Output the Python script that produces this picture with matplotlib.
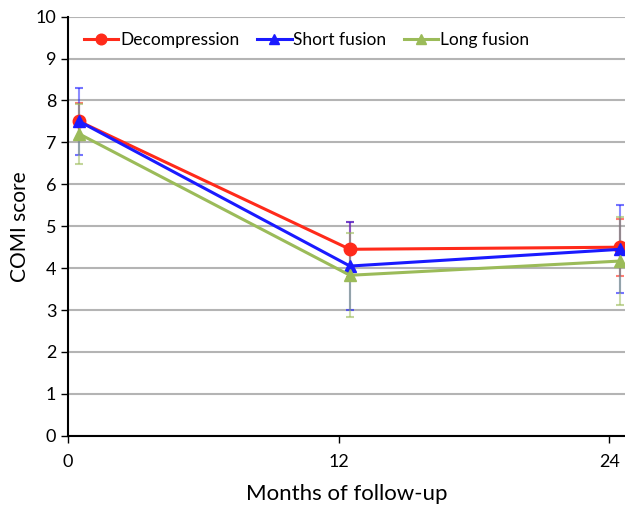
import matplotlib
matplotlib.use('Agg')
import matplotlib.pyplot as plt
from matplotlib.lines import Line2D

plt.rcParams['font.family'] = ['Lato', 'DejaVu Sans']

months = [0.5, 12.5, 24.5]
decompression = [7.5, 4.45, 4.5]
decompression_err = [0.45, 0.65, 0.68]
short_fusion = [7.5, 4.05, 4.45]
short_fusion_err = [0.8, 1.05, 1.05]
long_fusion = [7.2, 3.83, 4.17]
long_fusion_err = [0.72, 1.0, 1.05]

fig = plt.figure(figsize=(6.25, 5.05), dpi=100)
ax = fig.add_axes([0.109, 0.137, 0.891, 0.830])

series = [
    ('Decompression', decompression, decompression_err, '#ff2a1a', 'o', 9),
    ('Short fusion', short_fusion, short_fusion_err, '#1a1aff', '^', 9),
    ('Long fusion', long_fusion, long_fusion_err, '#9bbb59', '^', 8),
]
handles = []
for name, vals, err, col, mk, ms in series:
    c = ax.errorbar(months, vals, yerr=err, color=col, ecolor=col, elinewidth=1.5,
                    capsize=3, capthick=1.5, lw=2.2, marker=mk, ms=ms, zorder=3)
    # fade the error bars a bit
    for part in c.lines[2]:
        part.set_alpha(0.5)
    for part in c.lines[1]:
        part.set_alpha(0.6)
    handles.append(Line2D([], [], color=col, lw=2.2, marker=mk, ms=ms * 0.85,
                          label=name))

ax.set_xlim(0, 24.7)
ax.set_ylim(0, 10)
ax.set_xticks([0, 12, 24])
ax.set_yticks(range(11))
ax.yaxis.grid(True, color='#b4b4b4', lw=1.5)
ax.set_axisbelow(True)
for s in ['top', 'right']:
    ax.spines[s].set_visible(False)
for s in ['left', 'bottom']:
    ax.spines[s].set_linewidth(1.5)
ax.tick_params(labelsize=13, length=5, width=1)
ax.tick_params(axis='x', pad=8)
ax.set_ylabel('COMI score', fontsize=15)
ax.set_xlabel('Months of follow-up', fontsize=16, labelpad=10)

ax.legend(handles=handles, loc='upper left', ncol=3, frameon=False,
          fontsize=12.5, handlelength=2.0, handletextpad=0.1,
          columnspacing=1.0, bbox_to_anchor=(0.0, 1.0))

fig.savefig('out.png', dpi=100)
